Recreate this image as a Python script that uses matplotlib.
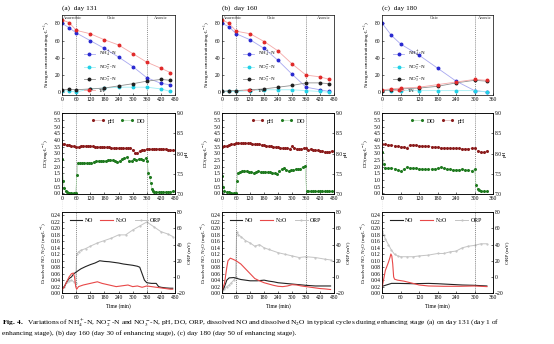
import numpy as np
import matplotlib
matplotlib.use("Agg")
import matplotlib.pyplot as plt
from matplotlib.lines import Line2D
from matplotlib.transforms import blended_transform_factory

plt.rcParams['font.family'] = ['Liberation Serif', 'DejaVu Serif']
plt.rcParams['mathtext.fontset'] = 'stix'
plt.rcParams['font.size'] = 4
plt.rcParams['axes.linewidth'] = 0.5
plt.rcParams['xtick.direction'] = 'in'
plt.rcParams['ytick.direction'] = 'in'
plt.rcParams['xtick.major.size'] = 1.5
plt.rcParams['ytick.major.size'] = 1.5
plt.rcParams['xtick.major.width'] = 0.4
plt.rcParams['ytick.major.width'] = 0.4
plt.rcParams['xtick.major.pad'] = 1.5
plt.rcParams['ytick.major.pad'] = 1.2

# ---- nitrogen species (mg/L) ----
t_n_a = [0, 30, 60, 120, 180, 240, 300, 360, 420, 460]
nh4_a = [80, 75, 69, 60, 51, 41, 30, 17, 10.5, 8.7]
no2_a = [2, 1.5, 0.5, 4, 5, 6, 6, 6, 4, 1]
no3_a = [3, 3.5, 3, 4, 5, 7.5, 10, 13, 15, 14]
tn_a = [84, 81, 72, 68, 61, 55, 45, 35, 28, 23]

t_n_b = [0, 30, 60, 120, 180, 240, 300, 360, 420, 460]
nh4_b = [80, 76, 68, 61, 51, 37, 21, 6, 3, 1]
no2_b = [1, 1, 1, 2, 3, 3, 3, 2, 1, 0]
no3_b = [1, 2, 2, 3, 4, 6, 8, 11, 11, 10]
tn_b = [84, 80, 71, 68, 59, 48, 33, 20, 18, 15]

t_n_c = [0, 30, 60, 120, 180, 240, 300, 340]
nh4_c = [80, 66, 56, 43, 28, 13, 2, 0.5]
no2_c = [2, 2, 2, 2, 2, 2, 2, 0.5]
no3_c = [2, 3, 4, 5, 7, 11, 14, 13]
tn_c = [3, 4, 5, 6, 9, 12, 15, 14]

# ---- pH and DO ----
t_ph_a = np.arange(0, 480, 10)
ph_a = [8.23, 8.23, 8.22, 8.21, 8.20, 8.19, 8.17, 8.17, 8.20, 8.20,
        8.19, 8.19, 8.18, 8.18, 8.17, 8.17, 8.17, 8.17, 8.16, 8.16,
        8.16, 8.15, 8.15, 8.15, 8.14, 8.14, 8.13, 8.13, 8.13, 8.14,
        8.10, 8.02, 8.02, 8.07, 8.10, 8.10, 8.11, 8.12, 8.11, 8.12,
        8.12, 8.12, 8.12, 8.11, 8.12, 8.10, 8.09, 8.08]
t_do_a = [0, 5, 10, 15, 20, 30, 40, 50, 58, 63, 68] + list(range(75, 360, 10)) + \
         [362, 367, 372, 377, 382, 387, 392, 400, 410, 420, 430, 440, 450, 460, 470]
do_a = [2.6, 0.95, 0.4, 0.15, 0.08, 0.06, 0.05, 0.05, 0.05, 1.35, 2.25,
        2.25, 2.28, 2.3, 2.28, 2.25, 2.3, 2.35, 2.4, 2.45, 2.45,
        2.42, 2.45, 2.5, 2.5, 2.48, 2.45, 2.35, 2.45, 2.55, 2.65,
        2.7, 2.4, 2.45, 2.6, 2.5, 2.55, 2.6, 2.5, 2.65,
        2.4, 1.5, 1.2, 0.8, 0.35, 0.15, 0.12, 0.1, 0.1, 0.08, 0.1, 0.1, 0.12, 0.12, 0.15]

t_ph_b = np.arange(0, 480, 10)
ph_b = [8.17, 8.18, 8.20, 8.22, 8.23, 8.24, 8.25, 8.26, 8.26, 8.26,
        8.26, 8.26, 8.25, 8.24, 8.24, 8.23, 8.23, 8.22, 8.21, 8.20,
        8.19, 8.18, 8.17, 8.17, 8.16, 8.15, 8.14, 8.13, 8.13, 8.12,
        8.18, 8.13, 8.12, 8.11, 8.11, 8.13, 8.13, 8.10, 8.12, 8.10,
        8.09, 8.08, 8.07, 8.06, 8.05, 8.04, 8.05, 8.07]
t_do_b = [0, 5, 10, 20, 30, 40, 50, 58, 63, 68] + list(range(75, 360, 10)) + \
         [362, 370, 380, 390, 400, 410, 420, 430, 440, 450, 460, 470]
do_b = [1.3, 0.5, 0.2, 0.1, 0.08, 0.06, 0.05, 0.05, 0.95, 1.55,
        1.6, 1.65, 1.7, 1.7, 1.62, 1.6, 1.55, 1.58, 1.65, 1.62,
        1.6, 1.62, 1.6, 1.58, 1.55, 1.52, 1.45, 1.65, 1.8, 1.9,
        1.72, 1.7, 1.72, 1.78, 1.8, 1.85, 1.85, 1.95, 2.05,
        0.2, 0.18, 0.17, 0.15, 0.15, 0.15, 0.14, 0.15, 0.14, 0.15, 0.15, 0.16]

t_ph_c = np.arange(0, 350, 10)
ph_c = [8.23, 8.23, 8.22, 8.21, 8.20, 8.18, 8.17, 8.17, 8.15, 8.22,
        8.22, 8.21, 8.20, 8.19, 8.19, 8.18, 8.17, 8.17, 8.16, 8.15,
        8.15, 8.14, 8.14, 8.13, 8.14, 8.13, 8.12, 8.12, 8.12, 8.13,
        8.14, 8.07, 8.04, 8.03, 8.07]
t_do_c = [0, 5, 10] + list(range(20, 300, 10)) + [300, 305, 310, 315, 320, 330, 340]
do_c = [3.1, 2.2, 1.9,
        1.88, 1.9, 1.85, 1.72, 1.65, 1.82, 1.95, 1.92, 1.9, 1.88,
        1.85, 1.82, 1.8, 1.8, 1.82, 1.85, 1.88, 1.95, 1.88, 1.82,
        1.8, 1.78, 1.75, 1.78, 1.8, 1.75, 1.72, 1.7,
        1.8, 0.6, 0.35, 0.22, 0.18, 0.15, 0.15]

# ---- dissolved NO, N2O (mg/L) and ORP (mV) ----
t_no_a = [0, 10, 20, 30, 40, 50, 60, 80, 100, 120, 140, 160, 180, 200, 220, 240,
          260, 280, 300, 320, 330, 340, 350, 360, 380, 400, 410, 420, 440, 460, 470]
no_a = [0.015, 0.02, 0.035, 0.045, 0.05, 0.06, 0.065, 0.075, 0.082, 0.088, 0.093,
        0.1, 0.098, 0.097, 0.095, 0.093, 0.09, 0.088, 0.086, 0.083, 0.08, 0.06,
        0.04, 0.032, 0.03, 0.03, 0.02, 0.018, 0.016, 0.015, 0.015]
t_n2o_a = [0, 10, 20, 30, 40, 48, 53, 58, 62, 70, 90, 120, 150, 170, 200, 230,
           260, 280, 300, 320, 340, 360, 380, 400, 430, 460, 470]
n2o_a = [0.01, 0.02, 0.035, 0.05, 0.06, 0.062, 0.05, 0.02, 0.012, 0.02, 0.025,
         0.03, 0.035, 0.03, 0.025, 0.02, 0.023, 0.025, 0.02, 0.022, 0.018, 0.022,
         0.02, 0.018, 0.015, 0.012, 0.012]
t_orp_a = [0, 10, 20, 30, 40, 50, 58, 62, 70, 80, 100, 120, 150, 180, 210, 240,
           270, 300, 330, 360, 390, 420, 450, 470]
orp_a = [-16, -12, -6, -5, -4, -6, -7, 28, 31, 33, 35, 38, 42, 45, 48, 52,
         52, 58, 63, 68, 62, 56, 53, 50]

t_no_b = [0, 10, 20, 30, 50, 60, 80, 100, 120, 150, 180, 200, 220, 240, 270, 300,
          330, 360, 400, 440, 465]
no_b = [0.005, 0.02, 0.04, 0.047, 0.048, 0.046, 0.042, 0.04, 0.038, 0.038, 0.04,
        0.037, 0.035, 0.032, 0.03, 0.028, 0.026, 0.024, 0.022, 0.022, 0.022]
t_n2o_b = [0, 10, 20, 25, 35, 45, 60, 80, 100, 120, 140, 160, 180, 200, 220, 240,
           260, 280, 300, 320, 340, 360, 380, 400, 420, 440, 465]
n2o_b = [0.01, 0.03, 0.08, 0.1, 0.108, 0.105, 0.1, 0.09, 0.075, 0.06, 0.045, 0.038,
         0.032, 0.028, 0.024, 0.021, 0.02, 0.022, 0.026, 0.025, 0.022, 0.02, 0.018,
         0.016, 0.014, 0.013, 0.011]
t_orp_b = [0, 10, 20, 30, 40, 50, 58, 62, 70, 80, 100, 120, 140, 160, 180, 200,
           240, 270, 300, 330, 360, 400, 440, 465]
orp_b = [-18, -15, -12, -10, -7, -4, 0, 56, 52, 50, 45, 42, 38, 40, 36, 34,
         30, 28, 26, 24, 25, 24, 22, 21]

t_no_c = [0, 10, 20, 30, 50, 100, 150, 180, 220, 260, 300, 340]
no_c = [0.021, 0.024, 0.027, 0.03, 0.03, 0.029, 0.03, 0.029, 0.027, 0.025, 0.024, 0.022]
t_n2o_c = [0, 5, 10, 20, 25, 28, 31, 34, 37, 40, 50, 70, 100, 120, 150, 200, 250, 300, 340]
n2o_c = [0.02, 0.045, 0.07, 0.095, 0.11, 0.121, 0.115, 0.09, 0.05, 0.043, 0.04,
         0.037, 0.03, 0.025, 0.022, 0.021, 0.021, 0.022, 0.02]
t_orp_c = [0, 5, 10, 20, 30, 40, 50, 60, 80, 100, 120, 150, 180, 200, 220, 240,
           260, 280, 300, 320, 340]
orp_c = [57, 52, 47, 40, 33, 28, 26, 25, 25, 25, 26, 27, 29, 29, 31, 32,
         36, 38, 39, 41, 41]

titles = ['(a)  day 131', '(b)  day 160', '(c)  day 180']
phases = [[('Anaerobic', 2, 'left'), ('Oxic', 210, 'center'), ('Anoxic', 420, 'center')],
          [('Anaerobic', 2, 'left'), ('Oxic', 210, 'center'), ('Anoxic', 435, 'center')],
          [('Oxic', 170, 'center'), ('Anoxic', 332, 'center')]]
splits = [[0, 60, 360], [0, 60, 360], [0, 300]]
xmax = [480, 480, 360]

nitro = [(t_n_a, nh4_a, no2_a, no3_a, tn_a),
         (t_n_b, nh4_b, no2_b, no3_b, tn_b),
         (t_n_c, nh4_c, no2_c, no3_c, tn_c)]
phdo = [(t_ph_a, ph_a, t_do_a, do_a),
        (t_ph_b, ph_b, t_do_b, do_b),
        (t_ph_c, ph_c, t_do_c, do_c)]
gases = [(t_no_a, no_a, t_n2o_a, n2o_a, t_orp_a, orp_a),
         (t_no_b, no_b, t_n2o_b, n2o_b, t_orp_b, orp_b),
         (t_no_c, no_c, t_n2o_c, n2o_c, t_orp_c, orp_c)]

fig = plt.figure(figsize=(5.54, 3.44), dpi=100)

lefts = [0.112, 0.401, 0.690]
widths = [0.204, 0.202, 0.200]
rows = [(0.724, 0.233), (0.436, 0.235), (0.148, 0.235)]

for i in range(3):
    l, w = lefts[i], widths[i]
    xt = np.arange(0, xmax[i] + 1, 60)

    # nitrogen
    ax1 = fig.add_axes([l, rows[0][0], w, rows[0][1]])
    t, nh4, no2, no3, tn = nitro[i]
    ax1.plot(t, nh4, '-o', color='#a8a8f0', mfc='#2a2ad0', mec='#2a2ad0', ms=1.8, lw=0.6,
             label='NH$_4^+$-N')
    ax1.plot(t, no2, '-o', color='#a0eef5', mfc='#22d0e6', mec='#22d0e6', ms=1.8, lw=0.6,
             label='NO$_2^-$-N')
    ax1.plot(t, no3, '-o', color='#909090', mfc='#202020', mec='#202020', ms=1.8, lw=0.6,
             label='NO$_3^-$-N')
    ax1.plot(t, tn, '-o', color='#f4a8a8', mfc='#e02a2a', mec='#e02a2a', ms=1.8, lw=0.6,
             label='TN')
    ax1.set_xlim(0, xmax[i])
    ax1.set_ylim(-3, 90)
    ax1.set_yticks([0, 20, 40, 60, 80])
    ax1.set_xticks(xt)
    ax1.set_ylabel('Nitrogen concentration(mg$\\cdot$L$^{-1}$)', fontsize=3.6, labelpad=1)
    lx = 0.06 if i == 2 else 0.15
    ax1.legend(loc='center left', bbox_to_anchor=(lx, 0.3), frameon=False, fontsize=3.6,
               handlelength=2.2, labelspacing=0.8, handletextpad=0.8)
    for name, x, ha in phases[i]:
        ax1.text(x, 86, name, fontsize=3.3, ha=ha, va='center', color='#333333')
    ax1.text(0, 1.05, titles[i], transform=ax1.transAxes, fontsize=5.2, ha='left',
             va='bottom')

    # DO and pH
    ax2 = fig.add_axes([l, rows[1][0], w, rows[1][1]])
    tph, ph, tdo, do = phdo[i]
    ax2.set_xlim(0, xmax[i])
    ax2.set_ylim(-0.05, 6)
    ax2.set_yticks(np.arange(0, 6.01, 0.5))
    ax2.set_yticklabels(['%.1f' % v for v in np.arange(0, 6.01, 0.5)])
    ax2.set_xticks(xt)
    ax2.set_ylabel('DO(mg$\\cdot$L$^{-1}$)', fontsize=3.8, labelpad=1)
    ax2r = ax2.twinx()
    ax2r.set_ylim(7, 9)
    ax2r.set_yticks([7.0, 7.5, 8.0, 8.5, 9.0])
    ax2r.set_yticklabels(['7.0', '7.5', '8.0', '8.5', '9.0'])
    ax2r.set_ylabel('pH', fontsize=3.8, labelpad=1)
    hdo, = ax2.plot(tdo, do, '-o', color='#9ccf9c', mfc='#1f7a1f', mec='#1f7a1f', ms=1.2,
                    lw=0.4, label='DO')
    hph, = ax2r.plot(tph, ph, '-o', color='#d09a9a', mfc='#8b1c1c', mec='#8b1c1c', ms=1.2,
                     lw=0.4, label='pH')
    handles = [hdo, hph] if i == 2 else [hph, hdo]
    ax2.legend(handles=handles, loc='upper center', bbox_to_anchor=(0.5, 1.0),
               ncol=2, frameon=False, fontsize=4.2, numpoints=2, handlelength=2.2,
               columnspacing=1.0, handletextpad=0.6)

    # NO, N2O and ORP
    ax3 = fig.add_axes([l, rows[2][0], w, rows[2][1]])
    tno, no, tn2o, n2o, torp, orp = gases[i]
    ax3.set_xlim(0, xmax[i])
    ax3.set_ylim(0, 0.25)
    ax3.set_yticks(np.arange(0, 0.241, 0.02))
    ax3.set_yticklabels(['%.2f' % v for v in np.arange(0, 0.241, 0.02)])
    ax3.set_xticks(xt)
    ax3.set_xlabel('Time (min)', fontsize=4, labelpad=2.5)
    ax3.set_ylabel('Dissolved NO, N$_2$O (mg$\\cdot$L$^{-1}$)', fontsize=3.6, labelpad=1)
    ax3r = ax3.twinx()
    ax3r.set_ylim(-20, 80)
    ax3r.set_yticks([-20, 0, 20, 40, 60, 80])
    ax3r.set_ylabel('ORP (mV)', fontsize=3.8, labelpad=1)
    horp, = ax3r.plot(torp, orp, '-', color='#c4c4c4', lw=0.7, marker='.', ms=1.2,
                      label='ORP')
    hno, = ax3.plot(tno, no, '-', color='#222222', lw=0.8, label='NO')
    hn2o, = ax3.plot(tn2o, n2o, '-', color='#e84848', lw=0.8, label='N$_2$O')
    ax3.set_zorder(ax3r.get_zorder() + 1)
    ax3.patch.set_visible(False)
    ax3.legend(handles=[hno, hn2o, horp], loc='upper left', bbox_to_anchor=(0.02, 1.02),
               ncol=3, frameon=False, fontsize=4.2, handlelength=2.2,
               columnspacing=1.2, handletextpad=0.4)

    for ax in (ax1, ax2, ax3):
        for s in splits[i][1:]:
            ax.axvline(s, color='#666666', lw=0.5, ls=(0, (1.5, 1.5)), zorder=0)

    # phase boundaries carried through the gaps between rows
    tr = blended_transform_factory(ax1.transData, fig.transFigure)
    for s in splits[i]:
        fig.add_artist(Line2D([s, s], [rows[2][0], rows[0][0] + rows[0][1]], transform=tr,
                              color='#dddddd', lw=0.4, ls=(0, (2, 2)), zorder=-1))

fig.text(0.004, 0.061,
         r'$\bf{Fig.\ 4.}$  Variations of NH$_4^+$-N, NO$_2^-$-N and NO$_3^-$-N, pH, DO, ORP, '
         r'dissolved NO and dissolved N$_2$O in typical cycles during enhancing stage (a) on day 131 (day 1 of',
         fontsize=5.35, ha='left', va='center')
fig.text(0.004, 0.032,
         'enhancing stage), (b) day 160 (day 30 of enhancing stage), (c) day 180 (day 50 of enhancing stage).',
         fontsize=5.35, ha='left', va='center')

fig.savefig('out.png', dpi=100, facecolor='w')
